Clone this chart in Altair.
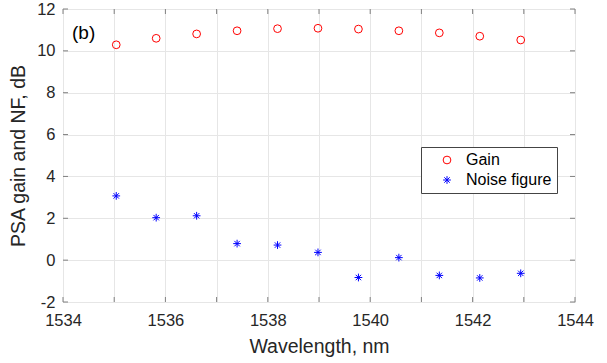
import altair as alt
import pandas as pd

# ---- data ----
wavelength = [1535.04, 1535.82, 1536.61, 1537.40, 1538.19, 1538.98,
              1539.77, 1540.56, 1541.35, 1542.14, 1542.94]
gain_db = [10.29, 10.60, 10.81, 10.96, 11.06, 11.08, 11.04, 10.96, 10.86, 10.70, 10.52]
noise_figure_db = [3.07, 2.03, 2.12, 0.79, 0.72, 0.37, -0.83, 0.12, -0.73, -0.85, -0.63]
series_names = ["Gain", "Noise figure"]
x_tick_values = list(range(1534, 1545))
y_tick_values = list(range(-2, 13, 2))
panel_label = ["(b)"]

W, H = 512, 293
FONT = "Liberation Sans"
STAR = "M0,-1L0,1M-1,0L1,0M-0.7,-0.7L0.7,0.7M-0.7,0.7L0.7,-0.7"
AX = "#808080"

df = pd.concat([
    pd.DataFrame({"wl": wavelength, "val": gain_db, "series": series_names[0]}),
    pd.DataFrame({"wl": wavelength, "val": noise_figure_db, "series": series_names[1]}),
])
df_xt = pd.DataFrame({"wl": x_tick_values})
df_yt = pd.DataFrame({"val": y_tick_values})
df_lab = pd.DataFrame({"label": panel_label})

xscale = alt.Scale(domain=[1534, 1544], nice=False, zero=False)
yscale = alt.Scale(domain=[-2, 12], nice=False, zero=False)

xaxis = alt.Axis(values=x_tick_values,
                 labelExpr="datum.value % 2 == 0 ? '' + datum.value : ''",
                 grid=True, gridColor="#e6e6e6", ticks=False, tickSize=0, domain=False,
                 labelFlush=False, labelOverlap=False,
                 labelFont=FONT, labelFontSize=16.5, labelColor="#262626", labelPadding=10,
                 title="Wavelength, nm", titleFont=FONT, titleFontSize=19.5,
                 titleFontWeight="normal", titleColor="#262626", titlePadding=9)
yaxis = alt.Axis(values=y_tick_values,
                 labelExpr="'' + datum.value",
                 grid=True, gridColor="#e6e6e6", ticks=False, tickSize=0, domain=False,
                 labelFlush=False, labelOverlap=False,
                 labelFont=FONT, labelFontSize=16.5, labelColor="#262626", labelPadding=8,
                 title="PSA gain and NF, dB", titleFont=FONT, titleFontSize=19.5,
                 titleFontWeight="normal", titleColor="#262626", titlePadding=8)

legend = alt.Legend(title=None, orient="none", legendX=358, legendY=138,
                    fillColor="white", strokeColor="#444444", padding=5,
                    labelFont=FONT, labelFontSize=16, labelColor="#000000",
                    symbolSize=60, symbolStrokeWidth=1, rowPadding=4,
                    symbolOffset=13, labelOffset=11)

points = alt.Chart(df).mark_point(filled=False, strokeWidth=1, size=60, opacity=1).encode(
    x=alt.X("wl:Q", scale=xscale, axis=xaxis),
    y=alt.Y("val:Q", scale=yscale, axis=yaxis),
    color=alt.Color("series:N", scale=alt.Scale(domain=series_names, range=["#ff0000", "#0000ff"]),
                    legend=legend),
    shape=alt.Shape("series:N", scale=alt.Scale(domain=series_names, range=["circle", STAR]),
                    legend=legend),
)

label = alt.Chart(df_lab).mark_text(font=FONT, fontSize=19, align="left", baseline="middle",
                                    color="#000000").encode(
    text="label:N", x=alt.value(9), y=alt.value(24))

def xticks(y0, y1):
    return alt.Chart(df_xt).mark_rule(color=AX, strokeWidth=1).encode(
        x=alt.X("wl:Q", scale=xscale, axis=xaxis),
        y=alt.value(y0), y2=alt.value(y1))

def yticks(x0, x1):
    return alt.Chart(df_yt).mark_rule(color=AX, strokeWidth=1).encode(
        y=alt.Y("val:Q", scale=yscale, axis=yaxis),
        x=alt.value(x0), x2=alt.value(x1))

chart = alt.layer(
    xticks(H, H - 5), xticks(0, 5), yticks(0, 5), yticks(W - 5, W), points, label
).properties(
    width=W, height=H,
    autosize=alt.AutoSizeParams(type="none"),
    padding={"left": 63, "top": 9, "right": 32, "bottom": 61},
).configure_view(stroke=AX, strokeWidth=1).configure(background="white")

chart.save("out.html", embed_options={"renderer": "svg", "actions": False})
